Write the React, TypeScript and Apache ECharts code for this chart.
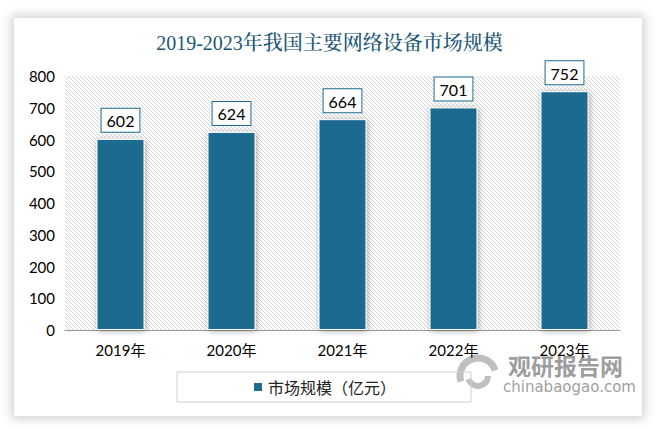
import React, { useEffect, useRef } from "react";
import * as echarts from "echarts";

const categories = ["2019年", "2020年", "2021年", "2022年", "2023年"];
const marketSize = [602, 624, 664, 701, 752];
const seriesName = "市场规模（亿元）";
const titleText = "2019-2023年我国主要网络设备市场规模";
const yTicks = { min: 0, max: 800, interval: 100 };

function makeHatch(): string {
  const c = document.createElement("canvas");
  c.width = 4;
  c.height = 4;
  const ctx = c.getContext("2d");
  if (ctx) {
    ctx.fillStyle = "#ffffff";
    ctx.fillRect(0, 0, 4, 4);
    ctx.fillStyle = "#d6d6d6";
    for (let i = 0; i < 4; i++) ctx.fillRect(i, i, 1, 1);
  }
  return c.toDataURL("image/png");
}

export default function App() {
  const ref = useRef<HTMLDivElement>(null);
  useEffect(() => {
    if (!ref.current) return;
    const chart = echarts.init(ref.current, null, { renderer: "svg" });
    const hatch = { image: makeHatch(), repeat: "repeat" };
    chart.setOption({
      animation: false,
      backgroundColor: "transparent",
      title: {
        text: titleText,
        left: "center",
        top: 28,
        textStyle: {
          fontFamily: "'Liberation Serif', 'Noto Serif CJK SC', 'Noto Sans CJK SC', serif",
          fontSize: 20,
          fontWeight: 500,
          color: "#1b5776",
        },
      },
      grid: {
        left: 65,
        right: 39,
        top: 76,
        bottom: 102,
        show: true,
        borderWidth: 0,
        backgroundColor: hatch,
      },
      legend: {
        data: [seriesName],
        left: 177,
        top: 372,
        padding: [7, 75],
        borderColor: "#d0d0d0",
        borderWidth: 1,
        itemWidth: 10,
        itemHeight: 10,
        icon: "rect",
        textStyle: {
          fontSize: 16,
          color: "#222",
          fontFamily: "'Noto Sans CJK SC', sans-serif",
        },
      },
      xAxis: {
        type: "category",
        data: categories,
        axisLine: { lineStyle: { color: "#999", width: 1 } },
        axisTick: { show: false },
        axisLabel: {
          margin: 12,
          fontSize: 15,
          color: "#000",
          fontFamily: "Lato, 'Noto Sans CJK SC', sans-serif",
        },
      },
      yAxis: {
        type: "value",
        min: yTicks.min,
        max: yTicks.max,
        interval: yTicks.interval,
        axisLine: { show: false },
        axisTick: { show: false },
        splitLine: { show: false },
        axisLabel: {
          margin: 10,
          fontSize: 15,
          color: "#000",
          fontFamily: "Lato, sans-serif",
        },
      },
      series: [
        {
          name: seriesName,
          type: "bar",
          data: marketSize,
          barWidth: 48,
          itemStyle: {
            color: "#1d6b8f",
            borderColor: "#ffffff",
            borderWidth: 1,
            shadowColor: "rgba(0,0,0,0.35)",
            shadowBlur: 6,
            shadowOffsetX: 1,
            shadowOffsetY: 1,
          },
          label: {
            show: true,
            position: "top",
            distance: 7,
            backgroundColor: "#ffffff",
            borderColor: "#1d6b8f",
            borderWidth: 1,
            padding: [4, 5, 3, 5],
            fontSize: 16,
            color: "#000",
            fontFamily: "Lato, sans-serif",
          },
        },
      ],
      graphic: [
        {
          type: "group",
          silent: true,
          children: [
            {
              type: "arc",
              shape: { cx: 478, cy: 376, r: 18, startAngle: Math.PI * 0.9, endAngle: Math.PI * 1.9 },
              style: { stroke: "rgba(170,170,165,0.75)", lineWidth: 7, fill: "none" },
            },
            {
              type: "arc",
              shape: { cx: 478, cy: 376, r: 10, startAngle: Math.PI * 0.0, endAngle: Math.PI * 0.9 },
              style: { stroke: "rgba(170,170,165,0.75)", lineWidth: 6, fill: "none" },
            },
            {
              type: "text",
              x: 508,
              y: 353,
              style: {
                text: "观研报告网",
                fontSize: 23,
                fontWeight: "bold",
                fill: "rgba(140,140,140,0.85)",
                fontFamily: "'Noto Sans CJK SC', sans-serif",
              },
            },
            {
              type: "text",
              x: 503,
              y: 379,
              style: {
                text: "chinabaogao.com",
                fontSize: 15,
                fill: "rgba(140,140,140,0.85)",
                fontFamily: "'DejaVu Sans', sans-serif",
                width: 119,
              },
            },
          ],
        },
      ],
    });
    return () => chart.dispose();
  }, []);

  return (
    <div style={{ position: "absolute", left: 0, top: 0, width: 659, height: 432, background: "#ffffff", overflow: "hidden" }}>
      <div
        style={{
          position: "absolute",
          left: 14,
          top: 18,
          width: 628,
          height: 398,
          background: "#ffffff",
          boxShadow: "0 0 10px 3px rgba(0,0,0,0.18)",
        }}
      />
      <div ref={ref} style={{ position: "absolute", left: 0, top: 0, width: 659, height: 432 }} />
    </div>
  );
}
